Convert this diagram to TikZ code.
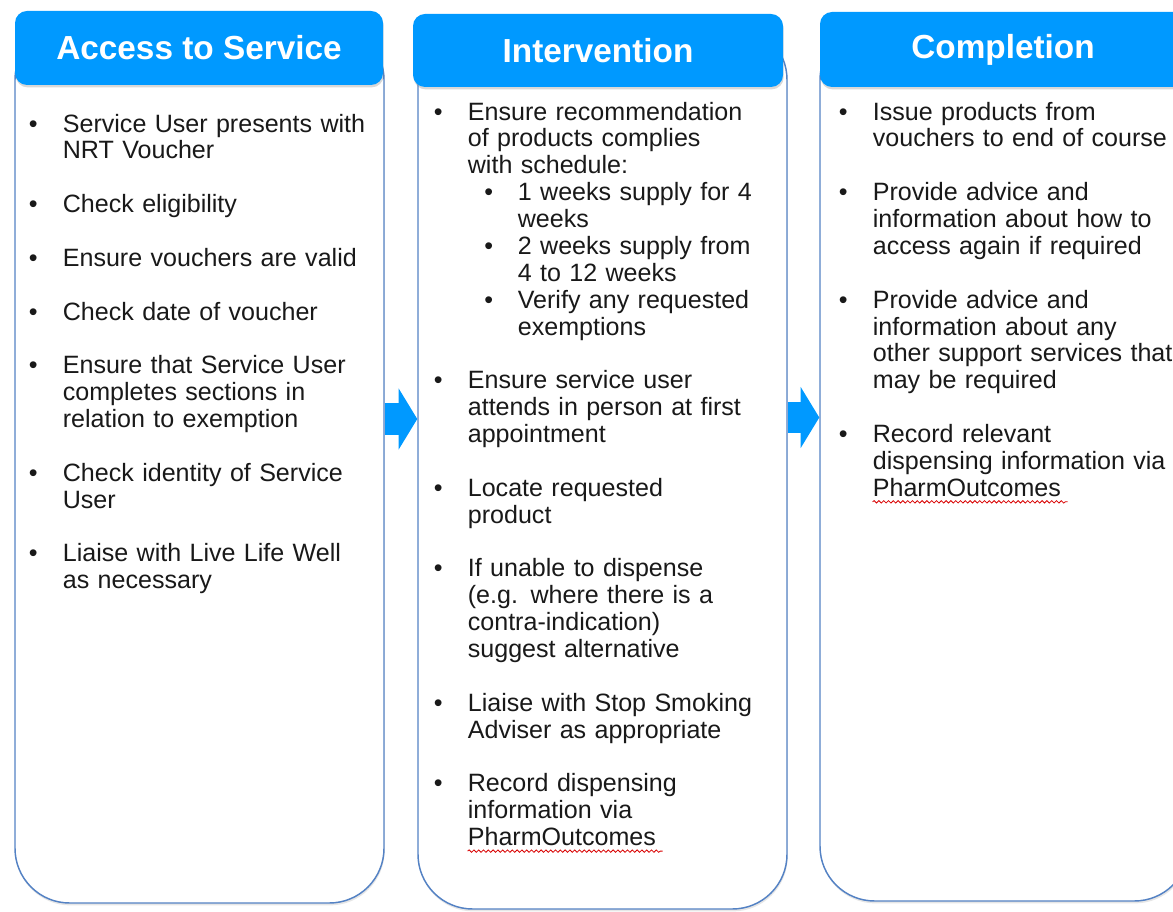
\documentclass[tikz,border=0pt]{standalone}
\usepackage{fontspec}
\setmainfont{Liberation Sans}
\usepackage{enumitem}
\usetikzlibrary{arrows.meta,shadows,decorations.pathmorphing}
\definecolor{hdblue}{RGB}{0,153,255}
\definecolor{edgeblue}{RGB}{84,130,196}
\setlist[itemize]{label=\textbullet, leftmargin=25.5pt, labelwidth=6.65pt, labelindent=0pt, labelsep=*, align=left, topsep=0pt, partopsep=0pt, parsep=0pt, itemsep=20.15pt}
\setlist[itemize,2]{leftmargin=37.5pt, labelindent=12.45pt, labelwidth=6.65pt, labelsep=*, itemsep=0pt}
\begin{document}
\begin{tikzpicture}[x=0.75pt, y=-0.75pt,
  box/.style={draw=edgeblue, line width=1.1pt, fill=white, rounded corners=41pt, minimum width=276.75pt,
    drop shadow={shadow xshift=0.5pt, shadow yshift=-1.8pt, opacity=0.2}},
  head/.style={fill=hdblue, rounded corners=9pt, text=white, font=\bfseries\fontsize{25}{30}\selectfont,
    drop shadow={shadow xshift=0.5pt, shadow yshift=-1.8pt, opacity=0.3}},
  items/.style={anchor=north west, inner sep=0pt, text width=300pt, align=left,
    font=\fontsize{18.8}{20.15}\selectfont, text=black!90},
  flow/.style={draw=hdblue, line width=23.5pt, -{Triangle[length=14pt, width=46pt, line width=0pt]}},
  spell/.style={draw=red!85!black, line width=0.6pt, decorate,
    decoration={snake, amplitude=0.9pt, segment length=3.6pt}}]
\path[use as bounding box, clip] (0,0) rectangle (1173,912);
% column bodies
\node [box, minimum height=658.5pt] (box1) at (199.5,464) {};
\node [box, minimum height=663pt] (box2) at (602.5,467) {};
\node [box, minimum height=657pt] (box3) at (1004.5,463) {};
% headers
\node [head, minimum width=276pt, minimum height=55.5pt] (hd1) at (199,48) {Access to Service};
\node [head, minimum width=277.5pt, minimum height=54.75pt] (hd2) at (598,50.5) {Intervention};
\node [head, minimum width=274.5pt, minimum height=56.25pt] (hd3) at (1003,49.5) {Completion};
% lists
\node [items] (txt1) at (28.6,105) {%
\begin{itemize}
\item Service User presents with\newline NRT Voucher
\item Check eligibility
\item Ensure vouchers are valid
\item Check date of voucher
\item Ensure that Service User\newline completes sections in\newline relation to exemption
\item Check identity of Service\newline User
\item Liaise with Live Life Well\newline as necessary
\end{itemize}};
\node [items] (txt2) at (433.6,93) {%
\begin{itemize}
\item Ensure recommendation\newline of products complies\newline with schedule:
  \begin{itemize}
  \item 1 weeks supply for 4\newline weeks
  \item 2 weeks supply from\newline 4 to 12 weeks
  \item Verify any requested\newline exemptions
  \end{itemize}
\item Ensure service user\newline attends in person at first\newline appointment
\item Locate requested\newline product
\item If unable to dispense\newline (e.g. where there is a\newline contra-indication)\newline suggest alternative
\item Liaise with Stop Smoking\newline Adviser as appropriate
\item Record dispensing\newline information via\newline PharmOutcomes
\end{itemize}};
\node [items] (txt3) at (838.6,93) {%
\begin{itemize}
\item Issue products from\newline vouchers to end of course
\item Provide advice and\newline information about how to\newline access again if required
\item Provide advice and\newline information about any\newline other support services that\newline may be required
\item Record relevant\newline dispensing information via\newline PharmOutcomes
\end{itemize}};
% spelling marks
\draw [spell] ([xshift=25.5pt, yshift=-3.8pt]txt2.south west) -- ++(195,0);
\draw [spell] ([xshift=25.5pt, yshift=-3.8pt]txt3.south west) -- ++(195,0);
% arrows between stages
\coordinate (a1) at (0,419);
\coordinate (a2) at (0,417.5);
\draw [flow] (box1.east |- a1) -- (box2.west |- a1);
\draw [flow] (box2.east |- a2) -- (box3.west |- a2);
\end{tikzpicture}
\end{document}
